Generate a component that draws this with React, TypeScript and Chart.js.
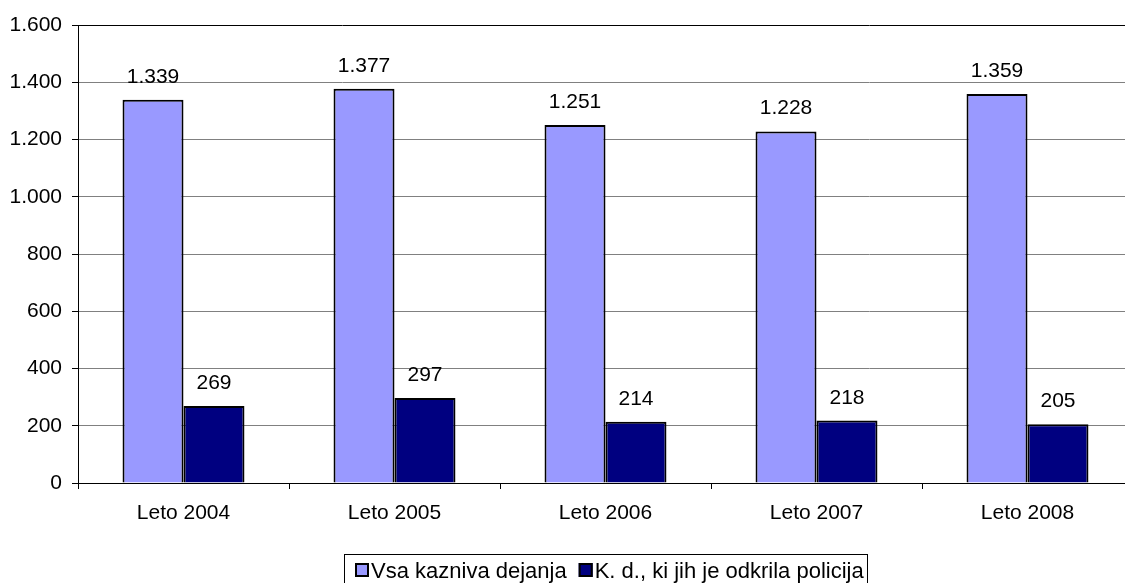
import React, { useEffect, useRef } from "react";
import { Chart, registerables } from "chart.js";

Chart.register(...registerables);

const categories = ["Leto 2004", "Leto 2005", "Leto 2006", "Leto 2007", "Leto 2008"];
const seriesNames = ["Vsa kazniva dejanja", "K. d., ki jih je odkrila policija"];
const allOffences = [1339, 1377, 1251, 1228, 1359];
const policeDetected = [269, 297, 214, 218, 205];
const yTicks = [0, 200, 400, 600, 800, 1000, 1200, 1400, 1600];
const colors = ["#9999FF", "#000080"];

const FONT = "'Liberation Sans', Arial, sans-serif";
const FS = 21;
const LEGEND_FS = 22;

const fmt = (n: number) => String(n).replace(/\B(?=(\d{3})+(?!\d))/g, ".");

const dataLabelPlugin = {
  id: "dataLabels",
  afterDatasetsDraw(chart: any) {
    const ctx = chart.ctx;
    ctx.save();
    ctx.font = `${FS}px ${FONT}`;
    ctx.fillStyle = "#000";
    ctx.textAlign = "center";
    ctx.textBaseline = "alphabetic";
    chart.data.datasets.forEach((ds: any, i: number) => {
      const meta = chart.getDatasetMeta(i);
      meta.data.forEach((el: any, j: number) => {
        ctx.fillText(fmt(ds.data[j]), el.x, el.y - 17);
      });
    });
    ctx.restore();
  },
};

const boxLegendPlugin = {
  id: "boxLegend",
  afterDraw(chart: any) {
    const ctx = chart.ctx;
    ctx.save();
    ctx.font = `${LEGEND_FS}px ${FONT}`;
    const sq = 14;
    const gap = 2;
    const spacing = 12;
    const padL = 10;
    const padR = 4;
    const items = chart.data.datasets.map((ds: any) => ({
      label: ds.label,
      color: ds.backgroundColor,
      w: ctx.measureText(ds.label).width,
    }));
    let total = padL + padR;
    items.forEach((it: any, i: number) => {
      total += sq + gap + it.w + (i < items.length - 1 ? spacing : 0);
    });
    const cx = (chart.chartArea.left + chart.chartArea.right) / 2;
    const left = Math.round(cx - total / 2) + 0.5;
    const top = 554.5;
    ctx.strokeStyle = "#000";
    ctx.lineWidth = 1;
    ctx.strokeRect(left, top, Math.round(total), 40);
    let x = Math.round(left + padL);
    const sqTop = 563;
    ctx.textBaseline = "alphabetic";
    ctx.textAlign = "left";
    items.forEach((it: any) => {
      ctx.fillStyle = it.color;
      ctx.fillRect(x, sqTop, sq, sq);
      ctx.strokeStyle = "#000";
      ctx.lineWidth = 2;
      ctx.strokeRect(x + 1, sqTop + 1, sq - 2, sq - 2);
      x += sq + gap;
      ctx.fillStyle = "#000";
      ctx.fillText(it.label, x, 578);
      x += it.w + spacing;
    });
    ctx.restore();
  },
};

export default function App() {
  const ref = useRef<HTMLCanvasElement>(null);

  useEffect(() => {
    if (!ref.current) return;
    const chart = new Chart(ref.current, {
      type: "bar",
      data: {
        labels: categories,
        datasets: [
          {
            label: seriesNames[0],
            data: allOffences,
            backgroundColor: colors[0],
            borderColor: "#000",
            borderWidth: 2,
            barPercentage: 1,
            categoryPercentage: 0.578,
          },
          {
            label: seriesNames[1],
            data: policeDetected,
            backgroundColor: colors[1],
            borderColor: "#000",
            borderWidth: 2,
            barPercentage: 1,
            categoryPercentage: 0.578,
          },
        ],
      },
      options: {
        responsive: false,
        animation: false,
        devicePixelRatio: 1,
        layout: { padding: { left: 0, right: 7, top: 25, bottom: 0 } },
        plugins: {
          legend: { display: false },
          tooltip: { enabled: false },
        },
        scales: {
          x: {
            offset: true,
            afterFit(scale: any) {
              scale.height = 100;
            },
            grid: {
              offset: true,
              drawOnChartArea: false,
              drawTicks: true,
              tickLength: 6,
              color: "#000",
            },
            border: { color: "#000", width: 1 },
            ticks: {
              color: "#000",
              font: { family: FONT, size: FS },
              padding: 12,
              maxRotation: 0,
            },
          },
          y: {
            min: 0,
            max: 1600,
            afterFit(scale: any) {
              scale.width = 78;
            },
            afterBuildTicks(scale: any) {
              scale.ticks = yTicks.map((v) => ({ value: v }));
            },
            grid: {
              color: (c: any) => (c.tick && c.tick.value === 1600 ? "#000" : "#808080"),
              tickColor: "#000",
              tickLength: 6,
              lineWidth: 1,
            },
            border: { color: "#000", width: 1 },
            ticks: {
              color: "#000",
              font: { family: FONT, size: FS },
              padding: 10,
              callback: (v: any) => fmt(Number(v)),
            },
          },
        },
      },
      plugins: [dataLabelPlugin, boxLegendPlugin],
    });
    return () => chart.destroy();
  }, []);

  return (
    <div
      style={{
        position: "absolute",
        left: 0,
        top: 0,
        width: 1125,
        height: 583,
        overflow: "hidden",
        background: "#fff",
      }}
    >
      <canvas ref={ref} width={1140} height={583} style={{ width: 1140, height: 583 }} />
    </div>
  );
}
